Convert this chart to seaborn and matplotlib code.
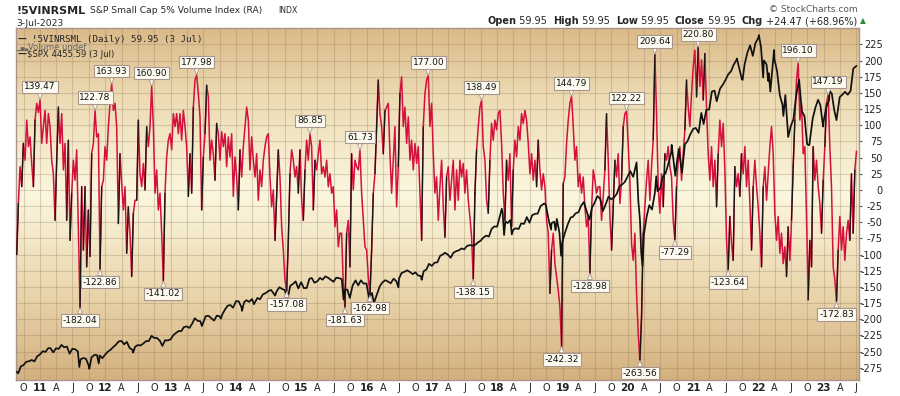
import numpy as np
import pandas as pd
import matplotlib
matplotlib.use("Agg")
import matplotlib.pyplot as plt
import matplotlib.dates as mdates
from matplotlib.colors import LinearSegmentedColormap
import seaborn as sns

# ---------------- data ----------------
vinr_start, vinr_end = "2010-08-23", "2023-07-03"

vinr_2010_2014 = [
    -100, -21, 36, 5, 72, 46, 108, 67, 82, 41,
    5, 108, 134, 120, 139.47, 72, 98, 123, 72, 118,
    98, 46, 25, -47, 46, 128, 72, 118, 31, 72,
    -47, 77, -78, -5, 46, 15, 62, -57, -182.04, 5,
    -93, 5, -119, -31, -103, 56, 72, 122.78, 82, 87,
    -122.86, 5, 15, 67, 46, 98, 134, 163.93, 123, 134,
    98, -52, 56, 10, -31, 5, -98, -26, -67, -134,
    -36, -16, -16, 108, 25, 5, 41, 0, 98, 67,
    98, 160.90, 98, -5, 31, -31, -5, -67, -141.02, -5,
    51, 77, 87, 62, 118, 98, 118, 87, 118, 77,
    123, 98, 67, -10, 56, -5, 128, 170, 177.98, 149,
    113, -31, 51, 87, 162, 144, 46, 77, 56, 15,
    103, 87, 46, 90, 67, 87, 36, 82, 51, 87,
    -10, 51, 20, -31, 62, 20, 67, 98, 128, 108,
    31, 82, 46, 20, 56, -16, 31, 5, 46, 67,
    82, 87, 20, -26, 0, -78, -10, 62, 20, -57,
    -93, -139, -157.08, -78, 25, 62, 46, 20, 36, -5,
]
vinr_2015_2019 = [
    62, -16, -47, 31, 77, 46, 86.85, 67, -31, 46,
    31, 56, 77, 25, 36, 20, 46, 5, 25, -5,
    5, -57, -31, -88, -67, -67, -145, -181.63, -67, -47,
    -119, 56, 0, 46, 36, 31, 61.73, -5, -47, -88,
    -93, -134, -162.98, -93, -5, 25, 98, 170, 118, 98,
    56, 123, 128, 134, 56, -5, 46, 98, -26, 36,
    149, 175, 98, 128, 72, 113, 46, 77, 31, 72,
    41, 67, -5, -78, 98, 149, 170, 177.00, 98, 134,
    56, -5, 20, -47, 5, 46, -26, -73, 20, 36,
    -16, 15, 46, -31, 31, -16, 46, 20, 41, -5,
    31, -16, -42, -73, -138.15, -5, 62, 98, 128, 138.49,
    67, 46, -16, -36, 46, 103, 77, 108, 93, 118,
    123, 72, -5, -47, 46, 15, 56, -57, 31, 77,
    51, 98, 77, 118, 103, 123, 108, 72, 25, 56,
    15, 46, 5, 77, 31, 0, 25, 5, -47, -67,
    -160, -93, -67, -114, -134, -155, -181, -242.32, 10, 20,
    72, 108, 134, 144.79, 98, 46, 67, 5, 25, -5,
    20, -26, -57, -41, -128.98, -31, 31, 15, -5, 5,
]
vinr_2019_2023 = [
    5, -47, -10, 31, 118, 46, -41, -93, -26, 46,
    20, 56, -21, 15, 98, 118, 122.22, 67, 15, -83,
    -109, -67, -160, -222, -263.56, -196, -67, -26, 15, 46,
    -16, 36, 77, 209.64, 118, 5, -36, 25, -26, 56,
    46, 67, 36, 20, -47, -77.29, 5, 46, 67, 15,
    56, 93, 170, 128, 98, 149, 190, 216, 144, 220.80,
    160, 201, 139, 211, 128, 56, 15, 67, 5, 46,
    -26, 56, 108, 67, 103, 31, -78, -123.64, -41, -83,
    -109, 36, 5, 25, -10, 56, 25, 67, 5, 46,
    -21, -93, 5, 46, 5, -26, -67, -119, 5, 36,
    -16, 25, 67, 98, 56, -36, -78, -41, -98, -67,
    -114, -88, -134, -57, -109, -47, 36, 108, 170, 196.10,
    108, 134, 56, 67, -41, -170, -78, -119, 67, 15,
    46, 5, -21, -67, 15, 67, 134, 147.19, 67, 5,
    -119, -139, -172.83, -93, -41, -93, -57, -109, -67, -47,
    -78, 25, -67, 31, 59.95,
]

spx_dates = [
    "2010-08-23", "2010-08-31", "2010-09-15", "2010-09-30", "2010-10-15", "2010-10-31",
    "2010-11-15", "2010-11-30", "2010-12-15", "2010-12-31",
    "2011-01-15", "2011-01-31", "2011-02-15", "2011-02-28", "2011-03-15", "2011-03-31",
    "2011-04-15", "2011-04-30", "2011-05-15", "2011-05-31", "2011-06-15", "2011-06-30",
    "2011-07-15", "2011-07-31", "2011-08-08", "2011-08-15", "2011-08-31", "2011-09-15",
    "2011-09-30", "2011-10-03", "2011-10-15", "2011-10-31", "2011-11-15", "2011-11-25",
    "2011-11-30", "2011-12-15", "2011-12-31",
    "2012-01-15", "2012-01-31", "2012-02-15", "2012-02-29", "2012-03-15", "2012-03-31",
    "2012-04-15", "2012-04-30", "2012-05-15", "2012-05-31", "2012-06-04", "2012-06-15",
    "2012-06-30", "2012-07-15", "2012-07-31", "2012-08-15", "2012-08-31", "2012-09-15",
    "2012-09-30", "2012-10-15", "2012-10-31", "2012-11-15", "2012-11-30", "2012-12-15",
    "2012-12-31",
    "2013-01-15", "2013-01-31", "2013-02-15", "2013-02-28", "2013-03-15", "2013-03-31",
    "2013-04-15", "2013-04-30", "2013-05-15", "2013-05-31", "2013-06-15", "2013-06-24",
    "2013-06-30", "2013-07-15", "2013-07-31", "2013-08-15", "2013-08-31", "2013-09-15",
    "2013-09-30", "2013-10-08", "2013-10-15", "2013-10-31", "2013-11-15", "2013-11-30",
    "2013-12-15", "2013-12-31",
    "2014-01-15", "2014-01-31", "2014-02-03", "2014-02-15", "2014-02-28", "2014-03-15",
    "2014-03-31", "2014-04-11", "2014-04-30", "2014-05-15", "2014-05-31", "2014-06-15",
    "2014-06-30", "2014-07-15", "2014-07-31", "2014-08-07", "2014-08-15", "2014-08-31",
    "2014-09-15", "2014-09-30", "2014-10-15", "2014-10-31", "2014-11-15", "2014-11-30",
    "2014-12-15", "2014-12-31",
    "2015-01-15", "2015-01-31", "2015-02-15", "2015-02-28", "2015-03-15", "2015-03-31",
    "2015-04-15", "2015-04-30", "2015-05-15", "2015-05-31", "2015-06-15", "2015-06-30",
    "2015-07-15", "2015-07-31", "2015-08-15", "2015-08-25", "2015-08-31", "2015-09-15",
    "2015-09-29", "2015-10-15", "2015-10-31", "2015-11-15", "2015-11-30", "2015-12-15",
    "2015-12-31",
    "2016-01-15", "2016-01-31", "2016-02-11", "2016-02-29", "2016-03-15", "2016-03-31",
    "2016-04-15", "2016-04-30", "2016-05-15", "2016-05-31", "2016-06-15", "2016-06-27",
    "2016-06-30", "2016-07-15", "2016-07-31", "2016-08-15", "2016-08-31", "2016-09-15",
    "2016-09-30", "2016-10-15", "2016-10-31", "2016-11-04", "2016-11-15", "2016-11-30",
    "2016-12-15", "2016-12-31",
    "2017-01-15", "2017-01-31", "2017-02-15", "2017-02-28", "2017-03-15", "2017-03-31",
    "2017-04-15", "2017-04-30", "2017-05-15", "2017-05-31", "2017-06-15", "2017-06-30",
    "2017-07-15", "2017-07-31", "2017-08-15", "2017-08-31", "2017-09-15", "2017-09-30",
    "2017-10-15", "2017-10-31", "2017-11-15", "2017-11-30", "2017-12-15", "2017-12-31",
    "2018-01-15", "2018-01-26", "2018-01-31", "2018-02-08", "2018-02-15", "2018-02-28",
    "2018-03-15", "2018-03-23", "2018-03-31", "2018-04-15", "2018-04-30", "2018-05-15",
    "2018-05-31", "2018-06-15", "2018-06-30", "2018-07-15", "2018-07-31", "2018-08-15",
    "2018-08-31", "2018-09-20", "2018-09-30", "2018-10-15", "2018-10-29", "2018-10-31",
    "2018-11-15", "2018-11-23", "2018-11-30", "2018-12-15", "2018-12-24", "2018-12-31",
    "2019-01-15", "2019-01-31", "2019-02-15", "2019-02-28", "2019-03-15", "2019-03-31",
    "2019-04-15", "2019-04-30", "2019-05-15", "2019-05-31", "2019-06-15", "2019-06-30",
    "2019-07-15", "2019-07-31", "2019-08-15", "2019-08-31", "2019-09-15", "2019-09-30",
    "2019-10-15", "2019-10-31", "2019-11-15", "2019-11-30", "2019-12-15", "2019-12-31",
    "2020-01-15", "2020-01-31", "2020-02-19", "2020-02-29", "2020-03-09", "2020-03-16",
    "2020-03-23", "2020-03-31", "2020-04-15", "2020-04-30", "2020-05-15", "2020-05-31",
    "2020-06-08", "2020-06-15", "2020-06-30", "2020-07-15", "2020-07-31", "2020-08-15",
    "2020-08-31", "2020-09-02", "2020-09-23", "2020-09-30", "2020-10-12", "2020-10-30",
    "2020-11-15", "2020-11-30", "2020-12-15", "2020-12-31",
    "2021-01-15", "2021-01-31", "2021-02-15", "2021-02-28", "2021-03-15", "2021-03-31",
    "2021-04-15", "2021-04-30", "2021-05-12", "2021-05-31", "2021-06-15", "2021-06-30",
    "2021-07-15", "2021-07-31", "2021-08-15", "2021-08-31", "2021-09-02", "2021-09-30",
    "2021-10-04", "2021-10-15", "2021-10-31", "2021-11-15", "2021-11-30", "2021-12-15",
    "2021-12-31",
    "2022-01-03", "2022-01-15", "2022-01-27", "2022-01-31", "2022-02-15", "2022-02-24",
    "2022-02-28", "2022-03-08", "2022-03-29", "2022-03-31", "2022-04-15", "2022-04-30",
    "2022-05-15", "2022-05-20", "2022-05-31", "2022-06-16", "2022-06-30", "2022-07-15",
    "2022-07-31", "2022-08-16", "2022-08-31", "2022-09-15", "2022-09-30", "2022-10-12",
    "2022-10-31", "2022-11-15", "2022-11-30", "2022-12-13", "2022-12-28", "2022-12-31",
    "2023-01-15", "2023-01-31", "2023-02-02", "2023-02-15", "2023-02-28", "2023-03-13",
    "2023-03-31", "2023-04-15", "2023-04-30", "2023-05-15", "2023-05-31", "2023-06-15",
    "2023-06-30", "2023-07-03",
]
spx_close = [
    1067, 1049, 1125, 1141, 1176, 1183, 1197, 1181, 1236, 1258,
    1293, 1286, 1328, 1327, 1281, 1326, 1320, 1364, 1338, 1345, 1266, 1321,
    1316, 1292, 1119, 1204, 1219, 1209, 1131, 1099, 1224, 1253, 1251, 1159,
    1247, 1216, 1258,
    1289, 1312, 1343, 1366, 1402, 1408, 1370, 1398, 1330, 1310, 1278, 1343,
    1362, 1357, 1379, 1405, 1407, 1465, 1441, 1440, 1412, 1353, 1416, 1413,
    1426,
    1472, 1498, 1519, 1515, 1561, 1569, 1552, 1598, 1659, 1631, 1626, 1573,
    1606, 1682, 1686, 1661, 1633, 1688, 1682, 1655, 1698, 1757, 1798, 1806,
    1775, 1848,
    1848, 1783, 1741, 1838, 1859, 1841, 1872, 1815, 1884, 1870, 1924, 1937,
    1960, 1973, 1931, 1910, 1955, 2003, 1984, 1972, 1862, 2018, 2039, 2068,
    1990, 2059,
    1993, 1995, 2097, 2105, 2053, 2068, 2106, 2086, 2123, 2107, 2085, 2063,
    2108, 2104, 2092, 1867, 1972, 1978, 1884, 2023, 2079, 2023, 2080, 2043,
    2044,
    1880, 1940, 1829, 1932, 2015, 2060, 2081, 2065, 2047, 2097, 2071, 2001,
    2099, 2162, 2174, 2190, 2171, 2148, 2168, 2133, 2126, 2085, 2180, 2199,
    2262, 2239,
    2275, 2279, 2350, 2364, 2385, 2363, 2329, 2384, 2402, 2412, 2433, 2423,
    2459, 2470, 2464, 2472, 2500, 2519, 2553, 2575, 2565, 2648, 2676, 2674,
    2786, 2873, 2824, 2581, 2732, 2714, 2747, 2588, 2641, 2656, 2648, 2711,
    2705, 2780, 2718, 2801, 2816, 2819, 2902, 2931, 2914, 2750, 2641, 2712,
    2730, 2633, 2760, 2600, 2351, 2507,
    2610, 2704, 2775, 2784, 2822, 2834, 2906, 2946, 2850, 2752, 2886, 2942,
    3014, 2980, 2848, 2926, 3007, 2977, 2996, 3038, 3120, 3141, 3169, 3231,
    3289, 3226, 3386, 2954, 2747, 2386, 2237, 2585, 2783, 2912, 2863, 3044,
    3232, 3067, 3100, 3227, 3271, 3373, 3500, 3580, 3237, 3363, 3535, 3270,
    3585, 3622, 3695, 3756,
    3768, 3714, 3934, 3811, 3968, 3973, 4170, 4181, 4063, 4204, 4246, 4298,
    4360, 4395, 4468, 4523, 4537, 4308, 4300, 4471, 4605, 4683, 4567, 4709,
    4766,
    4796, 4663, 4326, 4516, 4471, 4288, 4374, 4171, 4632, 4530, 4393, 4132,
    4023, 3901, 4132, 3667, 3785, 3863, 4130, 4305, 3955, 3901, 3586, 3577,
    3872, 3992, 4080, 4020, 3783, 3840,
    3999, 4077, 4180, 4148, 3970, 3855, 4109, 4137, 4169, 4136, 4180, 4426,
    4450, 4456,
]

peak_labels = [139.47, 122.78, 163.93, 160.90, 177.98, 86.85, 61.73, 177.00,
               138.49, 144.79, 122.22, 209.64, 220.80, 196.10, 147.19]
trough_labels = [-182.04, -122.86, -141.02, -157.08, -181.63, -162.98, -138.15,
                 -242.32, -128.98, -263.56, -77.29, -123.64, -172.83]

y_ticks = list(range(-275, 226, 25))
month_letters = {1: None, 4: "A", 7: "J", 10: "O"}

# ---------------- figure ----------------
sns.set_style("white")
plt.rcParams["font.family"] = ["DejaVu Sans"]

vinr = np.array(vinr_2010_2014 + vinr_2015_2019 + vinr_2019_2023, dtype=float)
dates = pd.date_range(vinr_start, vinr_end, periods=len(vinr))
df = pd.DataFrame({"date": dates, "value": vinr})
spx = pd.DataFrame({"date": pd.to_datetime(spx_dates), "close": spx_close})

W, H = 900, 396
fig = plt.figure(figsize=(W / 100, H / 100), dpi=100)
fig.patch.set_facecolor("white")
ax = fig.add_axes([16 / W, 1 - 380 / H, (859 - 16) / W, (380 - 28.3) / H])
ax2 = ax.twinx()

# background gradient
cmap = LinearSegmentedColormap.from_list(
    "bg", [(0, "#D4B07F"), (0.25, "#EAD6AC"), (0.53, "#FBF7DF"), (0.8, "#EDDCB4"), (1, "#DBBA89")])
grad = np.linspace(0, 1, 256).reshape(-1, 1)
ax.imshow(grad, extent=[0, 1, 0, 1], transform=ax.transAxes, cmap=cmap,
          aspect="auto", origin="lower", zorder=0)

RED = "#D4103C"
sns.lineplot(data=df, x="date", y="value", color=RED, lw=1.1, ax=ax, zorder=3)
num = mdates.date2num(dates)
bx, by = [], []
for i in np.where(np.diff(vinr) > 65)[0]:
    bx += [num[i], num[i + 1], np.nan]
    by += [vinr[i], vinr[i + 1], np.nan]
ax.plot(bx, by, color="#151515", lw=0.9, zorder=4)

ax.set_ylim(-294, 250)
xmin = mdates.date2num(pd.Timestamp("2010-08-19"))
xmax = mdates.date2num(pd.Timestamp("2023-07-17"))
ax.set_xlim(xmin, xmax)

# x ticks
qdates = pd.date_range("2010-10-01", "2023-07-01", freq="QS-JAN")
ax.set_xticks(mdates.date2num(qdates))
labels = [f"{d.year % 100:02d}" if d.month == 1 else month_letters[d.month] for d in qdates]
ax.set_xticklabels(labels)
for lab, d in zip(ax.get_xticklabels(), qdates):
    if d.month == 1:
        lab.set_fontweight("bold")
        lab.set_fontsize(7.5)
    else:
        lab.set_fontsize(7)
ax.tick_params(axis="x", length=0, pad=2.5, colors="#222222")

# y ticks on the right
ax.set_yticks(y_ticks)
ax.set_yticklabels([str(t) for t in y_ticks])
ax.yaxis.tick_right()
ax.tick_params(axis="y", right=True, left=False, labelright=True, labelleft=False,
               length=2.5, width=0.8, color="#555555", pad=14.5, labelsize=7,
               labelcolor="#222222")
for lab in ax.get_yticklabels():
    lab.set_horizontalalignment("right")
ax.set_xlabel("")
ax.set_ylabel("")
ax.grid(True, color="#8B7355", alpha=0.28, lw=0.8)
ax.set_axisbelow(True)
for s in ax.spines.values():
    s.set_color("#A8958C")
    s.set_linewidth(1.0)

# SPX on its own (hidden) scale
sns.lineplot(data=spx, x="date", y="close", color="#111111", lw=1.25, ax=ax2)
ax2.set_ylim(975, 4872)
ax2.set_xlim(xmin, xmax)
ax2.set_yticks([])
ax2.set_ylabel("")
ax2.set_xlabel("")
ax2.tick_params(left=False, right=False, labelleft=False, labelright=False)
for s in ax2.spines.values():
    s.set_visible(False)

# value call-outs
box_fc, box_ec = "#FDFBF0", "#A8968E"
def callout(val, up):
    i = int(np.argmin(np.abs(vinr - val)))
    ax2.annotate(f"{val:.2f}", xy=(num[i], vinr[i]), xycoords=ax.transData,
                 xytext=(0, 6 if up else -6), textcoords="offset points",
                 ha="center", va="bottom" if up else "top", fontsize=6.5, color="#111111",
                 bbox=dict(boxstyle="square,pad=0.2", fc=box_fc, ec=box_ec, lw=0.8),
                 arrowprops=dict(arrowstyle="wedge,tail_width=0.55,shrink_factor=0.5",
                                 fc=box_fc, ec=box_ec, lw=0.6, shrinkA=0, shrinkB=0),
                 zorder=10, annotation_clip=False)
for v in peak_labels:
    callout(v, True)
for v in trough_labels:
    callout(v, False)

# ---------------- header texts ----------------
def px(x, y):
    return x / W, 1 - y / H

fig.text(*px(16, 13.5), "!5VINRSML", fontsize=8, fontweight="bold", va="baseline")
fig.text(*px(90, 13), "S&P Small Cap 5% Volume Index (RA)", fontsize=6.6, va="baseline")
fig.text(*px(278, 13), "INDX", fontsize=5.6, va="baseline")
fig.text(*px(16, 25.5), "3-Jul-2023", fontsize=6.6, va="baseline")
fig.text(*px(858, 12), "\u00a9 StockCharts.com", fontsize=6.5, ha="right",
         va="baseline", color="#555555")

parts = [("Open", "bold"), (" 59.95  ", "normal"), ("High", "bold"), (" 59.95  ", "normal"),
         ("Low", "bold"), (" 59.95  ", "normal"), ("Close", "bold"), (" 59.95  ", "normal"),
         ("Chg", "bold"), (" +24.47 (+68.96%) ", "normal")]
t = fig.text(*px(487, 26), parts[0][0], fontsize=7, fontweight=parts[0][1], va="bottom")
for s, w in parts[1:]:
    t = ax.annotate(s, xy=(1, 0), xycoords=t, fontsize=7, fontweight=w, va="bottom",
                    ha="left", annotation_clip=False)
ax.annotate("\u25B2", xy=(1, 0.1), xycoords=t, fontsize=5.5, color="#2E8B3A",
            va="bottom", ha="left", annotation_clip=False)

# legend block
fig.text(*px(17.5, 42), "\u2014", fontsize=6.5, fontweight="bold", va="baseline")
fig.text(*px(31.5, 42), "!5VINRSML (Daily) 59.95 (3 Jul)", fontsize=6.6,
         family="DejaVu Sans Mono", va="baseline")
fig.text(*px(17, 49.6), "\u2582\u2586\u2584", fontsize=3.5, va="baseline", color="#666666")
fig.text(*px(28, 49.6), "Volume undef", fontsize=6.0, va="baseline", color="#666666")
fig.text(*px(17.5, 57), "\u2014", fontsize=6.5, fontweight="bold", va="baseline")
fig.text(*px(27, 57), "$SPX 4455.59 (3 Jul)", fontsize=6.1, va="baseline")

fig.savefig("out.png", dpi=100)
